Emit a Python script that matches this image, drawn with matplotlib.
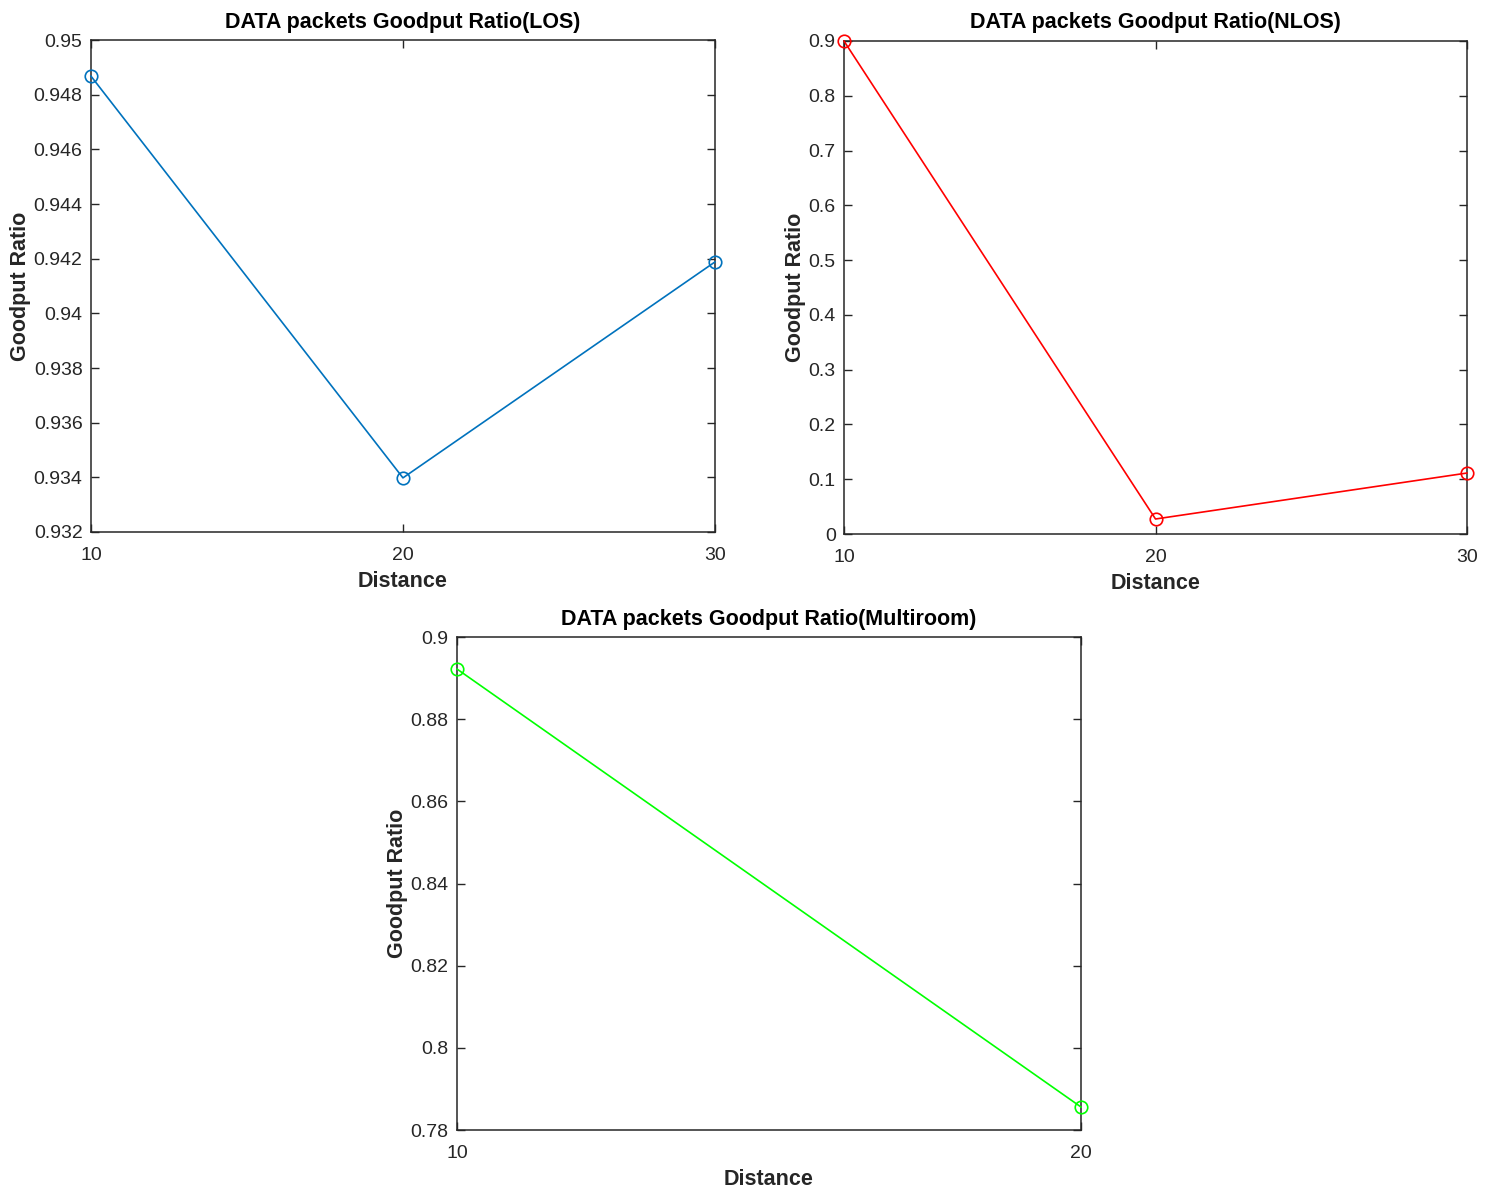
import matplotlib
matplotlib.use("Agg")
import matplotlib.pyplot as plt

plt.rcParams['font.family'] = ['Liberation Sans', 'DejaVu Sans']

distance_los = [10, 20, 30]
goodput_los = [0.94868, 0.93398, 0.94188]
yticks_los = [0.932, 0.934, 0.936, 0.938, 0.94, 0.942, 0.944, 0.946, 0.948, 0.95]
ytick_labels_los = ['0.932', '0.934', '0.936', '0.938', '0.94', '0.942', '0.944', '0.946', '0.948', '0.95']

distance_nlos = [10, 20, 30]
goodput_nlos = [0.8998, 0.0274, 0.1113]
yticks_nlos = [0, 0.1, 0.2, 0.3, 0.4, 0.5, 0.6, 0.7, 0.8, 0.9]
ytick_labels_nlos = ['0', '0.1', '0.2', '0.3', '0.4', '0.5', '0.6', '0.7', '0.8', '0.9']

distance_multi = [10, 20]
goodput_multi = [0.8922, 0.7856]
yticks_multi = [0.78, 0.8, 0.82, 0.84, 0.86, 0.88, 0.9]
ytick_labels_multi = ['0.78', '0.8', '0.82', '0.84', '0.86', '0.88', '0.9']

EDGE = '#262626'

fig = plt.figure(figsize=(14.96, 11.88), dpi=100)

def style(ax, x, y, color, xticks, yticks, ylabels, title):
    ax.plot(x, y, color=color, lw=1.2, marker='o', markersize=9,
            markerfacecolor='none', markeredgecolor=color, markeredgewidth=1.2,
            clip_on=False, zorder=3)
    ax.set_xlim(xticks[0], xticks[-1])
    ax.set_ylim(yticks[0], yticks[-1])
    ax.set_xticks(xticks)
    ax.set_xticklabels([str(v) for v in xticks])
    ax.set_yticks(yticks)
    ax.set_yticklabels(ylabels)
    ax.tick_params(direction='in', top=True, right=True, length=6, width=1,
                   labelsize=14, colors=EDGE)
    ax.tick_params(axis='x', pad=11)
    ax.tick_params(axis='y', pad=6)
    for s in ax.spines.values():
        s.set_color(EDGE)
        s.set_linewidth(1.1)
    ax.set_title(title, fontsize=15.5, fontweight='bold', pad=9)
    ax.set_xlabel('Distance', fontsize=15.5, fontweight='bold', color=EDGE, labelpad=5)
    ax.set_ylabel('Goodput Ratio', fontsize=15.5, fontweight='bold', color=EDGE, labelpad=2)

ax1 = fig.add_axes([0.0608, 0.5522, 0.4171, 0.4141])
style(ax1, distance_los, goodput_los, '#0072BD', [10, 20, 30],
      yticks_los, ytick_labels_los, 'DATA packets Goodput Ratio(LOS)')

ax2 = fig.add_axes([0.5642, 0.5505, 0.4164, 0.415])
style(ax2, distance_nlos, goodput_nlos, '#FF0000', [10, 20, 30],
      yticks_nlos, ytick_labels_nlos, 'DATA packets Goodput Ratio(NLOS)')

ax3 = fig.add_axes([0.3055, 0.0488, 0.4171, 0.415])
style(ax3, distance_multi, goodput_multi, '#00FF00', [10, 20],
      yticks_multi, ytick_labels_multi, 'DATA packets Goodput Ratio(Multiroom)')

fig.savefig('out.png', dpi=100, facecolor='white')
